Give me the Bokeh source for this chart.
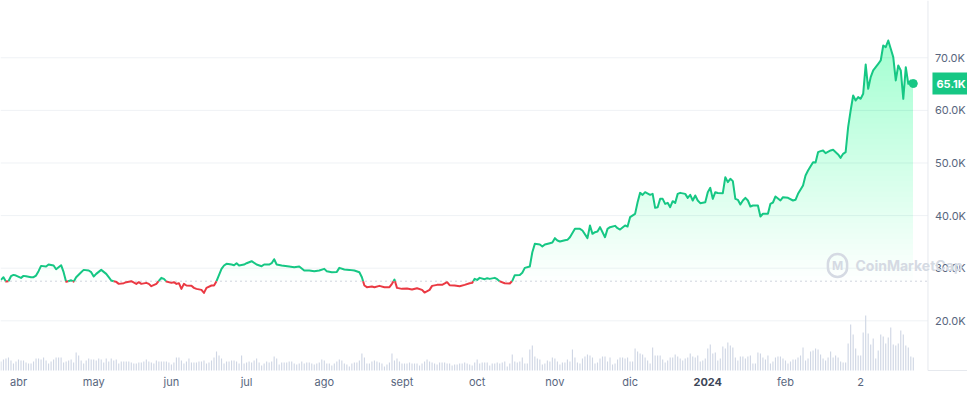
import numpy as np
import pandas as pd
from bokeh.plotting import figure
from bokeh.models import Range1d, Label
from bokeh.core.properties import value
from bokeh.embed import file_html
from bokeh.resources import INLINE

# ---------------- data ----------------
start_date = "2023-03-24"

price_day = [1, 2, 3, 4, 5, 6, 7, 9, 10, 11, 13, 14, 15, 16, 17, 19, 20, 22, 23, 25,
             26, 27, 29, 30, 31, 33, 34, 36, 37, 38, 39, 41, 43, 44, 45, 47, 48, 50, 51, 53,
             55, 56, 57, 59, 60, 61, 63, 65, 66, 67, 69, 70, 71, 72, 73, 74, 75, 77, 78, 79,
             81, 82, 83, 85, 86, 87, 89, 90, 91, 93, 94, 95, 96, 98,
             99, 101, 103, 105, 106, 108, 109, 110, 111, 113, 116, 118, 120, 122, 124, 126, 128, 130, 131, 133,
             135, 136, 138, 140, 142, 144, 145, 146, 147, 149, 150, 152, 154, 156, 157, 158, 159, 161, 163, 165,
             167, 169, 170, 172, 173, 175, 177, 179, 180, 182, 184, 186, 188, 189, 190, 191, 192, 194, 195, 196,
             198, 199, 200, 202, 204, 205, 206, 208,
             209, 210, 212, 213, 214, 216, 217, 218, 220, 221, 222, 223, 224, 226, 227, 228, 230, 232, 233, 235,
             236, 237, 238, 239, 240, 242, 243, 244, 246, 247, 248, 250, 251, 252, 254, 255, 256, 257, 258, 260,
             261, 262, 263, 264, 265, 266, 267, 268, 269, 270, 271, 272, 274, 275, 276, 277, 278, 279, 280, 282,
             283, 284, 285, 286, 287,
             289, 290, 291, 292, 293, 294, 295, 296, 297, 298, 299, 300, 301, 303, 304, 305, 307, 308, 309, 310,
             312, 313, 315, 317, 318, 319, 321, 322, 323, 325, 326, 327, 328, 329, 330, 332, 333, 335, 336, 337,
             338, 339, 340, 341, 342, 343, 344, 345, 346, 347, 348, 349, 351, 352, 353, 354, 355, 356, 357, 358,
             359, 360, 361, 362, 363, 364, 365]

price_k = [27.78, 28.29, 27.46, 27.53, 28.48, 28.73, 28.60, 28.16, 28.54, 28.48, 28.29, 28.29, 28.60, 29.43, 30.44, 30.32, 30.70, 30.51, 29.81, 30.57,
           29.24, 27.42, 27.70, 27.45, 28.29, 29.24, 29.68, 29.56, 29.24, 28.42, 28.92, 29.68, 28.92, 28.29, 27.66, 27.40, 27.02, 27.15, 27.34, 27.53,
           27.02, 27.34, 27.02, 27.21, 27.02, 26.58, 27.02, 28.16, 27.97, 27.46, 27.21, 27.34, 27.02, 27.15, 26.07, 27.02, 26.71, 26.65, 26.26, 26.07,
           25.88, 25.31, 26.26, 26.71, 26.71, 27.53, 29.88, 30.51, 30.83, 30.70, 30.57, 30.95, 30.51, 30.70,
           30.95, 31.33, 30.70, 30.38, 30.70, 30.70, 30.95, 31.71, 30.70, 30.51, 30.32, 30.19, 30.32, 29.56, 29.56, 29.43, 29.56, 29.87, 29.43, 29.24,
           29.30, 30.06, 29.75, 29.68, 29.56, 29.24, 28.29, 26.71, 26.39, 26.52, 26.39, 26.64, 26.39, 26.39, 27.02, 27.85, 26.26, 26.07, 26.14, 25.94,
           26.20, 25.88, 25.37, 25.88, 26.64, 26.83, 26.83, 27.34, 26.77, 26.71, 26.58, 26.83, 27.15, 27.21, 27.97, 27.78, 28.16, 27.91, 28.10, 27.97,
           28.16, 27.91, 27.50, 27.15, 27.10, 27.60, 28.67, 28.70,
           29.12, 30.06, 30.32, 33.04, 34.63, 34.50, 34.12, 34.50, 34.75, 34.88, 35.71, 35.26, 35.07, 35.32, 35.39, 35.89, 37.48, 37.48, 37.16, 35.71,
           38.11, 36.53, 36.85, 36.97, 37.80, 35.89, 37.48, 37.80, 38.05, 37.61, 37.35, 38.11, 37.92, 39.70, 40.33, 42.55, 44.32, 43.94, 44.45, 43.94,
           44.13, 41.47, 41.60, 43.18, 43.18, 42.23, 42.42, 41.60, 42.74, 42.42, 44.13, 44.32, 44.13, 43.37, 43.94, 42.87, 43.82, 42.87, 42.36, 42.55,
           44.45, 45.27, 43.18, 44.45, 44.30,
           44.26, 47.31, 46.36, 46.99, 46.55, 43.19, 43.00, 42.11, 42.87, 43.38, 42.87, 41.73, 41.92, 41.92, 39.83, 40.34, 40.34, 42.24, 42.49, 43.63,
           42.87, 43.50, 43.38, 42.87, 43.00, 44.14, 45.72, 47.62, 48.57, 50.16, 50.10, 52.06, 52.25, 52.38, 51.87, 52.38, 52.50, 51.62, 50.98, 51.74,
           52.06, 56.81, 59.98, 62.83, 61.88, 62.52, 62.20, 63.15, 68.73, 64.10, 66.32, 67.59, 68.85, 69.49, 72.34, 72.02, 73.29, 71.71, 70.12, 65.69,
           68.54, 67.59, 62.20, 68.22, 65.05, 65.69, 65.10]

# daily traded volume, billions USD (day 1 .. 365)
volume_bn = [18, 22, 24, 26, 20, 14, 18, 22, 20, 20, 16, 14, 14, 18, 24, 24, 22, 26, 20, 14,
             18, 22, 26, 26, 26, 16, 18, 20, 22, 16, 36, 30, 20, 14, 20, 24, 22, 22, 20, 24,
             22, 16, 24, 18, 24, 20, 22, 14, 18, 18, 18, 18, 16, 14, 14, 16, 16, 18, 22, 18,
             16, 14, 20, 18, 18, 18, 18, 16, 12, 16, 26, 26, 20, 14, 18, 24, 16, 16, 16, 18,
             18, 20, 14, 16, 20, 26, 38, 30, 24, 14, 18,
             18, 20, 20, 18, 14, 30, 14, 16, 18, 16, 20, 24, 16, 10, 14, 18, 16, 18, 28, 24,
             12, 16, 16, 16, 18, 18, 14, 12, 14, 18, 14, 16, 16, 14, 12, 14, 16, 22, 20, 14,
             14, 10, 14, 18, 22, 20, 14, 12, 8, 14, 16, 16, 20, 34, 26, 14, 14, 18, 20, 18,
             16, 14, 8, 12, 16, 34, 20, 24, 18, 14, 14, 14, 16, 14, 14, 14, 10, 14, 18, 22,
             18, 16, 14, 12, 16, 16, 16, 14, 14, 10, 12, 12,
             14, 14, 16, 14, 12, 10, 16, 22, 14, 16, 16, 16, 10, 14, 14, 16, 14, 16, 18, 8,
             14, 32, 18, 16, 18, 26, 14, 14, 42, 50, 28, 24, 22, 12, 14, 20, 18, 26, 24, 18,
             12, 16, 16, 22, 18, 42, 26, 16, 14, 24, 28, 32, 30, 26, 14, 16, 24, 28, 28, 18,
             26, 12, 14, 22, 26, 26, 24, 26, 18, 18, 44, 38, 34, 32, 26, 20, 14, 46, 30, 30,
             30, 22, 16, 20, 26, 26, 32, 28, 24, 20, 24,
             26, 34, 28, 26, 30, 18, 20, 24, 44, 52, 34, 36, 20, 24, 48, 44, 56, 50, 46, 26,
             20, 28, 28, 24, 28, 30, 14, 14, 36, 34, 26, 22, 30, 14, 18, 26, 28, 28, 24, 20,
             14, 18, 22, 22, 26, 30, 46, 20, 24, 38, 40, 44, 42, 32, 24, 20, 26, 38, 26, 30,
             26, 18, 16, 16, 54, 92, 72, 44, 30, 30, 76, 110, 74, 52, 64, 24, 40, 72, 68, 54,
             66, 86, 52, 50, 54, 80, 72, 50, 46, 28, 26]

month_ticks = ["2023-04-01", "2023-05-01", "2023-06-01", "2023-07-01", "2023-08-01", "2023-09-01",
               "2023-10-01", "2023-11-01", "2023-12-01", "2024-01-01", "2024-02-01", "2024-03-02"]
month_labels = ["abr", "may", "jun", "jul", "ago", "sept", "oct", "nov", "dic", "2024", "feb", "2"]
year_label = "2024"
price_ticks = [20, 30, 40, 50, 60, 70]
price_tick_labels = ["20.0K", "30.0K", "40.0K", "50.0K", "60.0K", "70.0K"]
baseline_k = 27.53
last_price_label = "65.1K"
watermark = "CoinMarketCap"

assert len(price_day) == len(price_k)

# ---------------- helpers ----------------
DAY_MS = 86400000.0
t0 = pd.Timestamp(start_date).value / 1e6


def day_to_ms(d):
    return t0 + np.asarray(d, dtype=float) * DAY_MS


px = day_to_ms(price_day)
py = np.asarray(price_k, dtype=float)
vx = day_to_ms(np.arange(1, len(volume_bn) + 1))


def with_crossings(x, y, level):
    xs, ys = [x[0]], [y[0]]
    for i in range(1, len(x)):
        a, b = y[i - 1], y[i]
        if (a - level) * (b - level) < 0:
            t = (level - a) / (b - a)
            xs.append(x[i - 1] + t * (x[i] - x[i - 1]))
            ys.append(level)
        xs.append(x[i])
        ys.append(y[i])
    return np.array(xs), np.array(ys)


GREEN = "#16c784"
RED = "#ea3943"
GREY_TXT = "#58667e"
GRID = "#eff2f5"
FONT = "Inter"

# ranges: the plotting frame covers the whole canvas; the price area ends at x_edge,
# the right-hand strip holds the price scale, the bottom strip the month labels
x_lo, x_hi = day_to_ms(0.818), day_to_ms(386.62)
x_edge = float(day_to_ms(370.85))
y_lo, y_hi = 7.13, 80.89
y_floor = 10.55   # price level at the bottom of the chart area (volume baseline)

p = figure(width=967, height=388,
           x_range=Range1d(x_lo, x_hi), y_range=Range1d(y_lo, y_hi),
           x_axis_type=None, y_axis_type=None,
           output_backend="svg", toolbar_location=None,
           min_border_left=0, min_border_right=0, min_border_top=0, min_border_bottom=0,
           outline_line_color=None, background_fill_color="white", border_fill_color="white")
p.grid.visible = False
p.extra_y_ranges = {"vol": Range1d(-36, 740)}

# horizontal grid lines at the price ticks (stop at the price scale)
p.segment(x0=[x_lo] * len(price_ticks), x1=[x_edge] * len(price_ticks),
          y0=price_ticks, y1=price_ticks, line_color=GRID, line_width=1)
# chart area border on the right + short base line under the scale
p.segment(x0=[x_edge], x1=[x_edge], y0=[y_floor], y1=[y_hi], line_color="#e6e9ee", line_width=1)
p.segment(x0=[x_edge], x1=[x_hi], y0=[y_floor], y1=[y_floor], line_color="#e6e9ee", line_width=1)

# volume bars
p.vbar(x=vx, top=volume_bn, bottom=0, width=0.45 * DAY_MS, y_range_name="vol",
       fill_color="#cfd6e4", line_color=None)

# gradient-like fill above the baseline
for lvl in np.arange(baseline_k, 74.5, 1.0):
    xs, ys = with_crossings(px, py, lvl)
    p.varea(x=xs, y1=np.full(len(xs), lvl), y2=np.maximum(ys, lvl),
            fill_color=GREEN, fill_alpha=0.0066)

# dotted baseline (opening price)
p.segment(x0=[x_lo], x1=[x_edge], y0=[baseline_k], y1=[baseline_k],
          line_color="#a1a7bb", line_width=1, line_dash="1 4")

# price line, green above / red below the baseline
lx, ly = with_crossings(px, py, baseline_k)
runs_x, runs_y, runs_c = [], [], []
cur_x, cur_y, cur_c = [lx[0]], [ly[0]], None
for i in range(1, len(lx)):
    c = GREEN if (ly[i - 1] + ly[i]) / 2 >= baseline_k else RED
    if cur_c is None or c == cur_c:
        cur_c = c
        cur_x.append(lx[i]); cur_y.append(ly[i])
    else:
        runs_x.append(cur_x); runs_y.append(cur_y); runs_c.append(cur_c)
        cur_x, cur_y, cur_c = [lx[i - 1], lx[i]], [ly[i - 1], ly[i]], c
runs_x.append(cur_x); runs_y.append(cur_y); runs_c.append(cur_c)
p.multi_line(xs=runs_x, ys=runs_y, line_color=runs_c, line_width=2, line_join="round")

p.scatter(x=[px[-1]], y=[py[-1]], size=8, fill_color=GREEN, line_color=GREEN)

# watermark
p.add_layout(Label(x=837, y=123, x_units="screen", y_units="screen", text="M",
                   text_align="center", text_baseline="middle", text_font=FONT,
                   text_font_size="12px", text_font_style="bold", text_color="#d5dae3",
                   border_line_color="#d5dae3", border_line_width=2.5, border_radius=11,
                   padding=4))
p.add_layout(Label(x=855, y=123, x_units="screen", y_units="screen", text=watermark,
                   text_align="left", text_baseline="middle", text_font=FONT,
                   text_font_size="14px", text_font_style="bold", text_color="#d5dae3"))

# price scale labels (right strip)
p.text(x=[x_edge] * len(price_ticks), y=price_ticks, text=price_tick_labels,
       x_offset=7, text_align="left", text_baseline="middle",
       text_font=value(FONT), text_font_size="11px", text_color=GREY_TXT)

# last price badge
p.add_layout(Label(x=x_edge, y=py[-1], x_offset=4.5, text=last_price_label,
                   text_align="left", text_baseline="middle", text_font=FONT,
                   text_font_size="11px", text_font_style="bold", text_color="white",
                   background_fill_color=GREEN, padding=4))

# month labels (bottom strip)
tick_ms = [float(day_to_ms((pd.Timestamp(d) - pd.Timestamp(start_date)).days)) for d in month_ticks]
reg = [i for i, lab in enumerate(month_labels) if lab != year_label]
yr = [i for i, lab in enumerate(month_labels) if lab == year_label]
p.text(x=[tick_ms[i] for i in reg], y=[y_lo] * len(reg), text=[month_labels[i] for i in reg],
       y_offset=-7, text_align="center", text_baseline="middle",
       text_font=value(FONT), text_font_size="11px", text_color=GREY_TXT)
p.text(x=[tick_ms[i] for i in yr], y=[y_lo] * len(yr), text=[month_labels[i] for i in yr],
       y_offset=-7, text_align="center", text_baseline="middle",
       text_font=value(FONT), text_font_size="11px", text_font_style="bold", text_color="#3d4658")

open("out.html", "w").write(file_html(p, INLINE))
